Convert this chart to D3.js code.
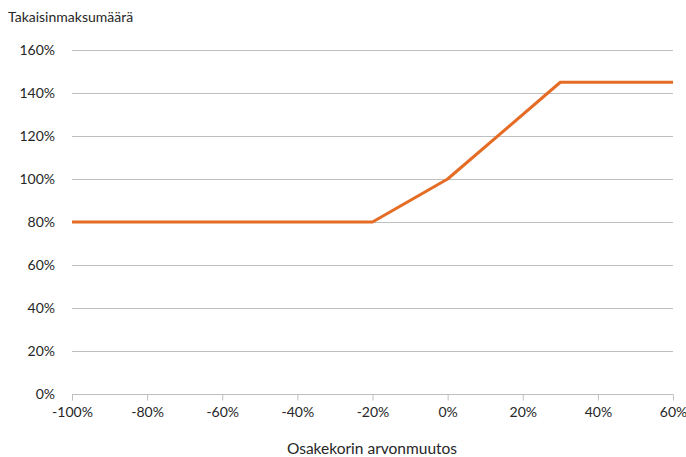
<!DOCTYPE html>
<html>
<head>
<meta charset="utf-8">
<script src="https://cdn.jsdelivr.net/npm/d3@7"></script>
<style>
  body { margin: 0; background: #fff; }
  text { font-family: Lato, "Open Sans", sans-serif; fill: #262626; }
</style>
</head>
<body>
<svg id="chart" width="686" height="457"></svg>
<script>
'use strict';

// chart data
const changePct = [-100, -20, 0, 30, 60];
const repayPct = [80, 80, 100, 145, 145];
const xTicks = [-100, -80, -60, -40, -20, 0, 20, 40, 60];
const yTicks = [0, 20, 40, 60, 80, 100, 120, 140, 160];

const yTitle = 'Takaisinmaksumäärä';
const xTitle = 'Osakekorin arvonmuutos';

const LEFT = 72;
const RIGHT = 673;
const TOP = 50;
const BOTTOM = 394;
const GRID = '#bfbfbf';
const ORANGE = '#e46c24';

let svg = d3.select('#chart');

let x = d3.scaleLinear().domain([-100, 60]).range([LEFT, RIGHT]);
let y = d3.scaleLinear().domain([0, 160]).range([BOTTOM, TOP]);

// horizontal gridlines
svg.append('g')
  .selectAll('line')
  .data(yTicks.filter(function(d) { return d > 0; }))
  .enter().append('line')
    .attr('x1', LEFT)
    .attr('x2', RIGHT)
    .attr('y1', function(d) { return Math.round(y(d)) + 0.5; })
    .attr('y2', function(d) { return Math.round(y(d)) + 0.5; })
    .attr('stroke', GRID)
    .attr('stroke-width', 1);

// y labels
svg.append('g')
  .selectAll('text')
  .data(yTicks)
  .enter().append('text')
    .attr('x', 55)
    .attr('y', function(d) { return y(d) + 5; })
    .attr('text-anchor', 'end')
    .attr('font-size', 14)
    .text(function(d) { return d + '%'; });

// x axis
let xAxis = d3.axisBottom(x)
  .tickValues(xTicks)
  .tickSize(6)
  .tickPadding(7)
  .tickFormat(function(d) { return d + '%'; });

let gx = svg.append('g')
  .attr('transform', 'translate(0,' + (Math.round(y(0)) + 0.5) + ')')
  .call(xAxis);
gx.select('.domain').attr('stroke', GRID).attr('d', 'M' + LEFT + ',0H' + RIGHT);
gx.selectAll('.tick line').attr('stroke', GRID);
gx.selectAll('.tick text')
  .attr('font-size', 14)
  .attr('font-family', 'Lato, "Open Sans", sans-serif')
  .attr('fill', '#262626');

// the payoff line
let line = d3.line()
  .x(function(d, i) { return x(changePct[i]); })
  .y(function(d) { return y(d); });

svg.append('path')
  .datum(repayPct)
  .attr('d', line)
  .attr('fill', 'none')
  .attr('stroke', ORANGE)
  .attr('stroke-width', 3)
  .attr('stroke-linejoin', 'round');

// titles
svg.append('text')
  .attr('x', 8)
  .attr('y', 22)
  .attr('font-size', 14)
  .attr('fill', '#333')
  .text(yTitle);

svg.append('text')
  .attr('x', 372)
  .attr('y', 454)
  .attr('text-anchor', 'middle')
  .attr('font-size', 15.5)
  .attr('fill', '#333')
  .text(xTitle);
</script>
</body>
</html>
